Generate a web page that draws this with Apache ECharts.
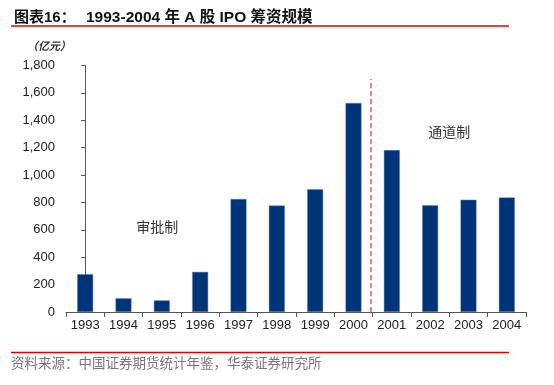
<!DOCTYPE html>
<html><head><meta charset="utf-8">
<script src="https://cdn.jsdelivr.net/npm/echarts@6/dist/echarts.min.js"></script>
<style>html,body{margin:0;padding:0;background:#fff}#c{width:554px;height:385px}</style>
</head><body><div id="c"></div>
<script>
const years = ['1993','1994','1995','1996','1997','1998','1999','2000','2001','2002','2003','2004'];
const ipoFunds = [276, 100, 85, 293, 825, 777, 896, 1526, 1182, 779, 820, 836];
const yTicks = {min: 0, max: 1800, interval: 200};
const titleText = '图表16：';
const titleMain = '1993-2004 年 A 股 IPO 筹资规模';
const unitText = '（亿元）';
const sourceText = '资料来源：中国证券期货统计年鉴，华泰证券研究所';
const regimeLabels = ['审批制', '通道制'];

const chart = echarts.init(document.getElementById('c'), null, {renderer: 'canvas'});
const latin = 'Liberation Sans, Arial, Noto Sans CJK SC, sans-serif';
chart.setOption({
  animation: false,
  backgroundColor: '#fff',
  grid: {left: 66, right: 28, top: 65.4, bottom: 73},
  title: [{
    text: '{a|' + titleText + '}{b|' + titleMain + '}',
    left: 9, top: 5,
    textStyle: {rich: {
      a: {fontSize: 15, fontWeight: 'bold', color: '#111', fontFamily: latin, width: 72},
      b: {fontSize: 15.5, fontWeight: 'bold', color: '#111', fontFamily: latin}
    }}
  }],
  graphic: [
    {type: 'line', shape: {x1: 11, y1: 26, x2: 509, y2: 26}, style: {stroke: '#e30000', lineWidth: 1.5}},
    {type: 'line', shape: {x1: 11, y1: 352.5, x2: 509, y2: 352.5}, style: {stroke: '#e30000', lineWidth: 1.5}},
    {type: 'text', left: 27, top: 40, style: {text: unitText, font: 'italic bold 11px Noto Sans CJK SC', fill: '#333'}},
    {type: 'text', left: 11, top: 356.5, style: {text: sourceText, font: '13.5px Noto Sans CJK SC', fill: '#777'}}
  ],
  xAxis: [{
    type: 'category', data: years,
    axisLine: {lineStyle: {color: '#555', width: 1}},
    axisTick: {show: true, length: 5, lineStyle: {color: '#555'}},
    axisLabel: {fontSize: 13, color: '#222', fontFamily: latin, margin: 7}
  }, {
    type: 'value', min: -0.5, max: 11.5, show: false
  }],
  yAxis: {
    type: 'value', min: yTicks.min, max: yTicks.max, interval: yTicks.interval,
    axisLine: {show: true, lineStyle: {color: '#555', width: 1}},
    axisTick: {show: true, length: 4, lineStyle: {color: '#555'}},
    splitLine: {show: false},
    axisLabel: {fontSize: 13, color: '#222', fontFamily: latin, margin: 11,
      formatter: v => v.toLocaleString('en-US')}
  },
  series: [{
    type: 'bar', data: ipoFunds, barWidth: 16,
    itemStyle: {color: '#003478', borderColor: '#6d86b3', borderWidth: 0.5}
  }, {
    type: 'scatter', xAxisIndex: 1, data: [], silent: true,
    itemStyle: {color: '#e8585e'},
    markLine: {
      silent: true, symbol: ['none', 'none'],
      lineStyle: {color: '#e8585e', type: [5, 3], width: 1.5, opacity: 1},
      emphasis: {disabled: true},
      label: {show: false},
      data: [[{coord: [7.45, 0]}, {coord: [7.45, 1700]}]]
    },
    markPoint: {
      silent: true, symbol: 'circle', symbolSize: 0,
      label: {show: true, position: 'inside', fontSize: 14, color: '#333', fontFamily: 'Noto Sans CJK SC', formatter: p => p.name},
      data: [
        {name: regimeLabels[0], coord: [1.88, 620]},
        {name: regimeLabels[1], coord: [9.5, 1314]}
      ]
    }
  }]
});
</script></body></html>
